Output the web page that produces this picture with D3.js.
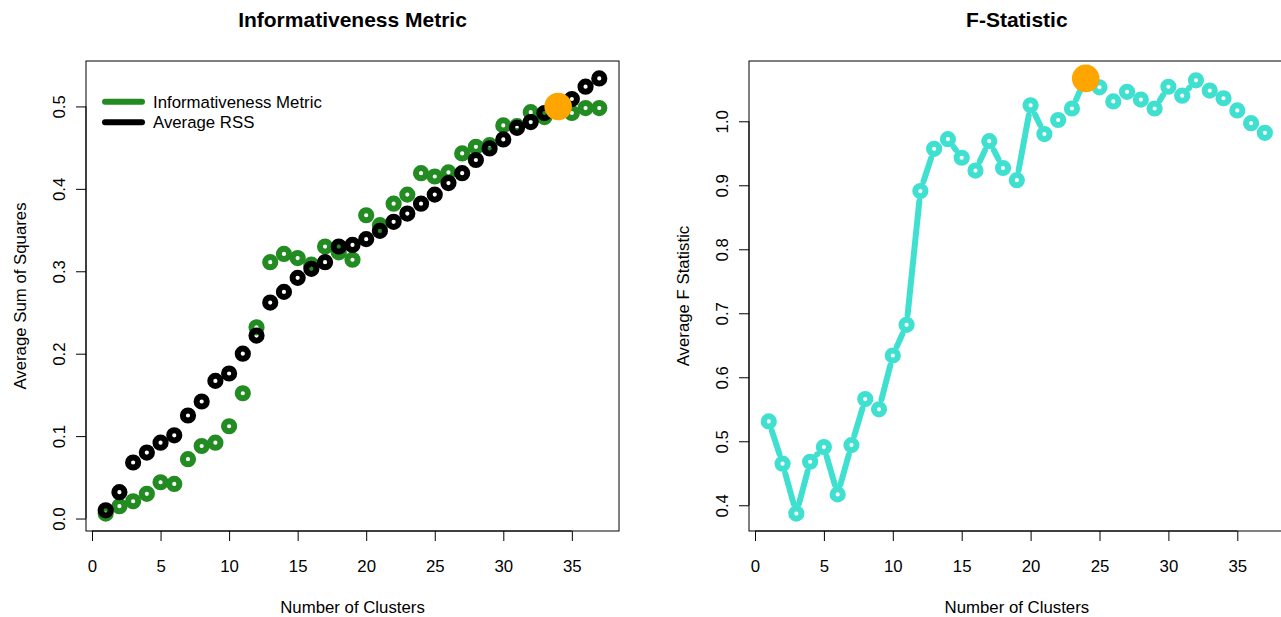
<!DOCTYPE html>
<html>
<head>
<meta charset="utf-8">
<script src="https://cdn.jsdelivr.net/npm/d3@7"></script>
<style>
  html, body { margin: 0; padding: 0; background: #fff; }
  svg { display: block; }
  text { font-family: "Liberation Sans", Arial, sans-serif; fill: #000; }
</style>
</head>
<body>
<svg id="chart" width="1281" height="617"></svg>
<script>
// Cluster counts tried
const clusters = [1, 2, 3, 4, 5, 6, 7, 8, 9, 10, 11, 12, 13, 14, 15, 16, 17, 18, 19,
                  20, 21, 22, 23, 24, 25, 26, 27, 28, 29, 30, 31, 32, 33, 34, 35, 36, 37];

// Informativeness metric per cluster count
const informativeness = [0.006, 0.015, 0.021, 0.030, 0.044, 0.042, 0.072, 0.088, 0.092, 0.112,
                         0.152, 0.232, 0.311, 0.321, 0.316, 0.308, 0.330, 0.323, 0.314, 0.368,
                         0.356, 0.382, 0.393, 0.419, 0.415, 0.420, 0.443, 0.451, 0.453, 0.477,
                         0.476, 0.493, 0.487, 0.500, 0.492, 0.498, 0.498];

// Average residual sum of squares per cluster count
const avgRSS = [0.010, 0.032, 0.068, 0.080, 0.092, 0.101, 0.125, 0.142, 0.167, 0.176,
                0.200, 0.222, 0.262, 0.275, 0.292, 0.303, 0.311, 0.330, 0.332, 0.339,
                0.349, 0.360, 0.370, 0.382, 0.393, 0.407, 0.419, 0.435, 0.449, 0.460,
                0.474, 0.481, 0.492, 0.498, 0.509, 0.524, 0.534];

// Average F statistic per cluster count
const fStat = [0.531, 0.465, 0.387, 0.468, 0.491, 0.417, 0.494, 0.566, 0.550, 0.634,
               0.682, 0.891, 0.957, 0.972, 0.943, 0.923, 0.969, 0.927, 0.908, 1.025,
               0.980, 1.002, 1.020, 1.067, 1.053, 1.031, 1.046, 1.034, 1.020, 1.054,
               1.040, 1.064, 1.048, 1.036, 1.017, 0.997, 0.982];

// Highlighted choices
const bestInfoK = 34;
const bestFK = 24;

// Tick labels
const xTicks = [0, 5, 10, 15, 20, 25, 30, 35];
const yTicksLeft = [0.0, 0.1, 0.2, 0.3, 0.4, 0.5];
const yTicksRight = [0.4, 0.5, 0.6, 0.7, 0.8, 0.9, 1.0];

const legendLabels = ["Informativeness Metric", "Average RSS"];

const COL_GREEN = "#228B22", COL_BLACK = "#000000", COL_TURQ = "#40E0D0", COL_ORANGE = "#FFA500";
const FONT = 16.8;

const svg = d3.select("#chart");

// R-style axis range: data range padded by 4% on each side
function padded(lo, hi) {
  const e = (hi - lo) * 0.04;
  return [lo - e, hi + e];
}

// Open circle marker with a thick ring
function rings(g, xs, ys, data, color) {
  g.selectAll(null).data(data).enter().append("circle")
    .attr("cx", d => xs(d.k)).attr("cy", d => ys(d.v))
    .attr("r", 5.1)
    .attr("fill", "none")
    .attr("stroke", color)
    .attr("stroke-width", 6);
}

function panel(opt) {
  const { left, top, bottom, x0px, unit } = opt;
  const xd = padded(d3.min(clusters), d3.max(clusters));
  const x = d3.scaleLinear().domain(xd).range([x0px + xd[0] * unit, x0px + xd[1] * unit]);
  const y = d3.scaleLinear().domain(padded(opt.ymin, opt.ymax)).range([bottom, top]);
  const right = x.range()[1];
  const g = svg.append("g");

  // Title
  g.append("text")
    .attr("x", (left + right) / 2).attr("y", 27)
    .attr("text-anchor", "middle")
    .style("font-size", "21px").style("font-weight", "bold")
    .text(opt.title);

  // Bottom axis
  const xa = d3.axisBottom(x).tickValues(xTicks).tickSize(10).tickPadding(0).tickFormat(d3.format("d"));
  const gx = g.append("g").attr("transform", `translate(0,${bottom})`).call(xa);
  gx.select(".domain").attr("d", `M${x(xTicks[0])},0H${x(xTicks[xTicks.length - 1])}`);
  gx.selectAll("text").remove();
  gx.selectAll(".tick").append("text")
    .attr("y", 41).attr("text-anchor", "middle")
    .style("font-size", FONT + "px")
    .text(d => d3.format("d")(d));

  // Left axis with rotated labels
  const ya = d3.axisLeft(y).tickValues(opt.yTicks).tickSize(10).tickFormat(d3.format(".1f"));
  const gy = g.append("g").attr("transform", `translate(${left},0)`).call(ya);
  gy.select(".domain").attr("d", `M0,${y(opt.yTicks[0])}V${y(opt.yTicks[opt.yTicks.length - 1])}`);
  gy.selectAll("text").remove();
  gy.selectAll(".tick").append("text")
    .attr("transform", "translate(-21,0) rotate(-90)")
    .attr("text-anchor", "middle")
    .style("font-size", FONT + "px")
    .text(d => d3.format(".1f")(d));
  g.selectAll(".tick line").attr("stroke", "#000");
  g.selectAll(".domain").attr("stroke", "#000");

  // Axis titles
  g.append("text")
    .attr("x", (left + right) / 2).attr("y", 613)
    .attr("text-anchor", "middle")
    .style("font-size", FONT + "px")
    .text("Number of Clusters");
  g.append("text")
    .attr("transform", `translate(${left - 60},${(top + bottom) / 2}) rotate(-90)`)
    .attr("text-anchor", "middle")
    .style("font-size", FONT + "px")
    .text(opt.ylabel);

  // Plot frame
  g.append("rect")
    .attr("x", left).attr("y", top)
    .attr("width", right - left).attr("height", bottom - top)
    .attr("fill", "none").attr("stroke", "#000").attr("stroke-width", 1);

  return { g, x, y };
}

// ---- Left panel: informativeness and RSS ----
const L = panel({
  left: 86, top: 61, bottom: 531, x0px: 92, unit: 13.71,
  ymin: d3.min(informativeness.concat(avgRSS)), ymax: d3.max(informativeness.concat(avgRSS)),
  yTicks: yTicksLeft, title: "Informativeness Metric", ylabel: "Average Sum of Squares"
});
rings(L.g, L.x, L.y, clusters.map((k, i) => ({ k, v: informativeness[i] })), COL_GREEN);
rings(L.g, L.x, L.y, clusters.map((k, i) => ({ k, v: avgRSS[i] })), COL_BLACK);
L.g.append("circle")
  .attr("cx", L.x(bestInfoK)).attr("cy", L.y(informativeness[clusters.indexOf(bestInfoK)]))
  .attr("r", 13.8).attr("fill", COL_ORANGE);

// Legend
const legend = L.g.append("g");
[COL_GREEN, COL_BLACK].forEach((c, i) => {
  const ly = 101.7 + i * 20.6;
  legend.append("line")
    .attr("x1", 105).attr("x2", 142).attr("y1", ly).attr("y2", ly)
    .attr("stroke", c).attr("stroke-width", 6).attr("stroke-linecap", "round");
  legend.append("text")
    .attr("x", 153).attr("y", ly + 6)
    .style("font-size", FONT + "px")
    .text(legendLabels[i]);
});

// ---- Right panel: F statistic ----
const R = panel({
  left: 749, top: 61, bottom: 531, x0px: 755, unit: 13.78,
  ymin: d3.min(fStat), ymax: d3.max(fStat),
  yTicks: yTicksRight, title: "F-Statistic", ylabel: "Average F Statistic"
});
const fPts = clusters.map((k, i) => ({ k, v: fStat[i] }));
// Connecting segments with a gap around each point
const GAP = 10;
for (let i = 0; i < fPts.length - 1; i++) {
  const ax = R.x(fPts[i].k), ay = R.y(fPts[i].v);
  const bx = R.x(fPts[i + 1].k), by = R.y(fPts[i + 1].v);
  const len = Math.hypot(bx - ax, by - ay);
  if (len <= 2 * GAP) continue;
  const ux = (bx - ax) / len, uy = (by - ay) / len;
  R.g.append("line")
    .attr("x1", ax + ux * GAP).attr("y1", ay + uy * GAP)
    .attr("x2", bx - ux * GAP).attr("y2", by - uy * GAP)
    .attr("stroke", COL_TURQ).attr("stroke-width", 6).attr("stroke-linecap", "round");
}
rings(R.g, R.x, R.y, fPts, COL_TURQ);
R.g.append("circle")
  .attr("cx", R.x(bestFK)).attr("cy", R.y(fStat[clusters.indexOf(bestFK)]))
  .attr("r", 13.8).attr("fill", COL_ORANGE);
</script>
</body>
</html>
